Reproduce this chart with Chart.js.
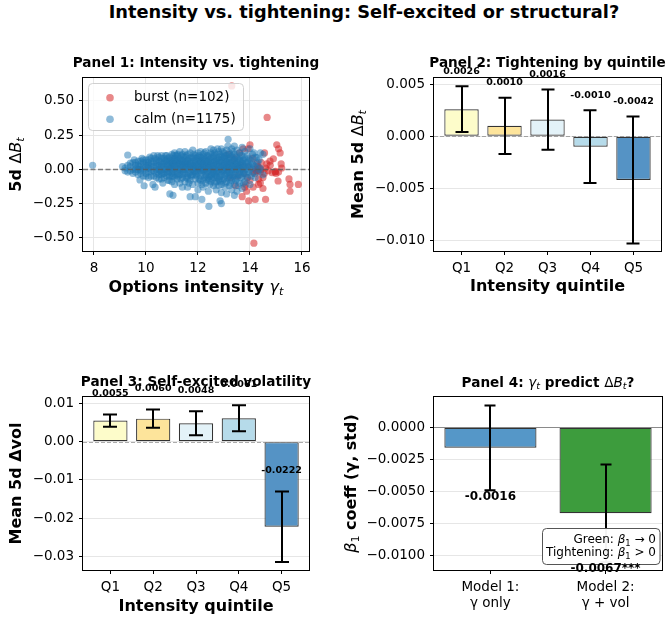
<!DOCTYPE html>
<html><head><meta charset="utf-8"><title>Intensity vs. tightening</title>
<script src="https://cdn.jsdelivr.net/npm/chart.js@4.4.1/dist/chart.umd.min.js"></script>
<style>
html,body{margin:0;padding:0;background:#fff;}
#wrap{position:relative;width:667px;height:620px;overflow:hidden;background:#fff;}
#suptitle{position:absolute;left:64px;width:600px;top:1px;text-align:center;font:bold 17.8px "DejaVu Sans";line-height:22px;color:#000;white-space:nowrap;}
canvas{position:absolute;}
</style></head><body>
<div id="wrap">
<div id="suptitle">Intensity vs. tightening: Self-excited or structural?</div>
<canvas id="p1" width="333" height="260" style="left:0;top:40px;width:333px;height:260px"></canvas>
<canvas id="p2" width="334" height="260" style="left:333px;top:40px;width:334px;height:260px"></canvas>
<canvas id="p3" width="333" height="260" style="left:0;top:360px;width:333px;height:260px"></canvas>
<canvas id="p4" width="334" height="260" style="left:333px;top:360px;width:334px;height:260px"></canvas>
</div>
<script>
// ---------------- DATA ----------------
const groupLabels = ['burst (n=102)', 'calm (n=1175)'];
const calmPoints = [
[7.95,0.03],
[9.1,0.02],[9.2,0.01],[9.2,-0.01],[9.3,0.105],[9.3,0.03],[9.3,-0.02],[9.4,0.02],[9.4,0.045],[9.4,-0.01],
[9.5,0.0],[9.5,0.05],[9.5,-0.03],[9.55,0.07],[9.6,-0.02],[9.6,0.03],[9.65,0.01],[9.7,0.06],[9.7,-0.04],[9.7,0.0],[9.75,0.02],[9.77,-0.077],
[9.8,0.04],[9.8,-0.01],[9.85,0.08],[9.9,0.02],[9.9,-0.05],[9.9,0.05],[9.93,-0.12],
[10.0,0.0],[10.0,0.07],[10.0,-0.03],[10.05,0.03],[10.1,0.05],[10.1,-0.06],[10.1,0.01],[10.15,0.09],[10.2,-0.02],[10.2,0.04],[10.25,0.06],
[10.27,-0.11],[10.3,0.02],[10.3,-0.05],[10.35,0.08],[10.35,-0.13],[10.4,0.0],[10.4,0.05],[10.4,-0.03],[10.45,0.1],[10.5,-0.07],[10.5,0.03],[10.5,0.06],[10.55,-0.01],
[10.6,0.08],[10.6,-0.04],[10.6,0.02],[10.65,-0.1],[10.7,0.0],[10.7,0.05],[10.7,-0.06],[10.75,0.1],[10.8,0.03],[10.8,-0.02],[10.8,0.07],[10.85,-0.08],
[10.9,-0.05],[10.9,0.01],[10.9,0.09],[10.92,-0.18],[10.95,0.04],[11.0,0.02],[11.0,-0.03],[11.0,0.06],[11.0,-0.09],[11.0,0.11],[11.04,-0.19],
[11.1,0.0],[11.1,0.04],[11.1,-0.06],[11.1,0.08],[11.1,-0.11],[11.1,0.12],
[11.2,0.03],[11.2,-0.02],[11.2,0.1],[11.2,-0.07],[11.2,0.06],
[11.3,0.05],[11.3,-0.04],[11.3,0.0],[11.3,0.13],[11.3,-0.1],[11.3,0.08],
[11.4,-0.01],[11.4,0.07],[11.4,-0.06],[11.4,0.03],[11.4,0.11],[11.4,-0.13],
[11.5,0.02],[11.5,-0.09],[11.5,0.09],[11.5,-0.03],[11.5,0.05],[11.5,0.13],
[11.6,-0.05],[11.6,0.0],[11.6,0.11],[11.6,0.04],[11.6,-0.13],[11.6,0.07],
[11.7,-0.2],[11.7,0.06],[11.7,-0.02],[11.7,0.02],[11.7,-0.08],[11.7,0.12],
[11.8,0.03],[11.8,-0.04],[11.8,0.08],[11.8,-0.11],[11.8,0.0],[11.8,0.14],
[11.9,0.05],[11.9,-0.07],[11.9,0.01],[11.9,0.1],[11.9,-0.02],[11.9,-0.2],
[12.0,-0.03],[12.0,0.04],[12.0,-0.1],[12.0,0.07],[12.0,0.0],[12.0,-0.15],[12.0,0.12],
[12.1,0.02],[12.1,0.09],[12.1,-0.05],[12.1,0.05],[12.1,-0.08],[12.1,0.13],[12.15,-0.22],
[12.2,-0.01],[12.2,0.06],[12.2,-0.08],[12.2,0.11],[12.2,0.03],[12.2,-0.13],
[12.3,0.0],[12.3,-0.04],[12.3,0.08],[12.3,0.04],[12.3,-0.1],[12.3,0.13],
[12.4,0.02],[12.4,-0.06],[12.4,0.1],[12.4,-0.02],[12.4,0.06],[12.4,-0.16],[12.42,-0.27],
[12.5,0.05],[12.5,-0.09],[12.5,0.0],[12.5,0.12],[12.5,-0.04],[12.5,0.08],[12.5,0.15],
[12.6,-0.02],[12.6,0.03],[12.6,-0.12],[12.6,0.09],[12.6,0.14],[12.6,-0.06],[12.6,0.0],
[12.7,0.01],[12.7,0.07],[12.7,-0.05],[12.7,0.11],[12.7,-0.15],[12.7,0.04],[12.7,-0.09],
[12.8,-0.03],[12.8,0.05],[12.8,0.13],[12.8,-0.08],[12.8,0.0],[12.8,0.09],[12.8,-0.12],[12.85,-0.23],
[12.9,0.02],[12.9,-0.11],[12.9,0.07],[12.9,-0.04],[12.9,0.15],[12.9,-0.17],[12.9,0.1],[12.9,-0.25],
[13.0,-0.01],[13.0,0.04],[13.0,0.12],[13.0,-0.07],[13.0,0.08],[13.04,-0.13],[13.0,0.0],
[13.1,0.06],[13.1,-0.03],[13.1,0.1],[13.1,-0.09],[13.1,0.02],[13.1,-0.18],[13.1,0.14],[13.16,0.22],
[13.2,-0.05],[13.2,0.01],[13.2,0.08],[13.2,-0.12],[13.2,0.05],[13.2,0.12],[13.2,-0.02],
[13.3,0.03],[13.3,-0.08],[13.3,0.1],[13.3,-0.02],[13.3,0.15],[13.3,-0.15],
[13.4,-0.04],[13.4,0.06],[13.4,0.0],[13.4,0.11],[13.4,-0.11],[13.4,-0.19],[13.4,0.17],
[13.5,0.02],[13.5,-0.07],[13.5,0.09],[13.5,0.14],[13.5,-0.16],[13.5,0.04],
[13.6,-0.02],[13.6,0.07],[13.6,-0.1],[13.6,0.12],[13.6,0.01],
[13.7,0.05],[13.7,-0.05],[13.7,-0.14],[13.7,0.1],[13.7,0.0],[13.7,0.16],
[13.8,-0.03],[13.8,0.08],[13.8,0.03],[13.8,-0.09],[13.8,0.13],
[13.9,0.02],[13.9,-0.06],[13.9,0.1],[13.9,0.05],
[14.0,0.15],[14.0,-0.11],[14.0,0.0],[14.0,0.07],
[14.1,0.04],[14.1,-0.03],[14.1,0.11],
[14.2,0.09],[14.2,0.02],[14.2,-0.06],
[14.3,0.05],[14.3,-0.02],[14.26,0.086],
[14.4,0.12],[14.4,0.01],
[14.5,0.11],[14.5,-0.04],
[9.6,0.0],[9.6,0.05],[9.7,0.03],[9.8,0.0],[9.8,0.06],[9.8,-0.03],[9.9,0.0],[9.9,0.07],
[10.0,0.02],[10.0,0.05],[10.0,-0.05],[10.1,-0.02],[10.1,0.07],[10.1,0.03],
[10.2,0.0],[10.2,0.08],[10.2,-0.05],[10.2,0.02],[10.3,0.05],[10.3,-0.01],[10.3,0.1],
[10.4,0.02],[10.4,-0.06],[10.4,0.07],[10.5,0.0],[10.5,0.09],[10.5,-0.04],
[10.6,0.05],[10.6,-0.02],[10.6,0.1],[10.6,-0.07],[10.7,0.02],[10.7,0.08],[10.7,-0.03],
[10.8,0.0],[10.8,0.05],[10.8,-0.05],[10.8,0.1],[10.9,0.06],[10.9,-0.02],[10.9,0.03],[10.9,-0.08],
[11.0,0.0],[11.0,0.08],[11.0,-0.05],[11.0,0.04],[11.05,0.02],[11.05,-0.02],[11.05,0.1],
[11.15,0.06],[11.15,-0.04],[11.15,0.01],[11.15,0.1],[11.25,0.0],[11.25,0.04],[11.25,-0.05],[11.25,0.08],
[11.35,0.02],[11.35,-0.07],[11.35,0.06],[11.35,0.1],[11.45,-0.02],[11.45,0.04],[11.45,0.0],[11.45,0.09],
[11.55,0.06],[11.55,-0.06],[11.55,0.02],[11.55,0.1],[11.65,-0.03],[11.65,0.08],[11.65,0.03],[11.65,-0.1],
[11.75,0.0],[11.75,0.05],[11.75,0.09],[11.75,-0.05],[11.85,0.02],[11.85,-0.02],[11.85,0.06],[11.85,0.11],
[11.95,-0.05],[11.95,0.03],[11.95,0.08],[11.95,-0.01],[12.05,0.01],[12.05,-0.07],[12.05,0.06],[12.05,0.1],
[12.15,-0.03],[12.15,0.04],[12.15,0.08],[12.15,0.0],[12.15,-0.11],[12.25,0.02],[12.25,-0.06],[12.25,0.07],[12.25,0.12],[12.25,-0.01],
[12.35,-0.02],[12.35,0.05],[12.35,0.1],[12.35,-0.07],[12.35,0.02],[12.45,0.0],[12.45,0.04],[12.45,0.09],[12.45,-0.05],[12.45,-0.11],
[12.55,0.02],[12.55,-0.02],[12.55,0.06],[12.55,0.11],[12.55,-0.07],[12.65,-0.04],[12.65,0.01],[12.65,0.06],[12.65,0.12],[12.65,-0.1],
[12.75,0.03],[12.75,-0.02],[12.75,0.08],[12.75,-0.06],[12.75,0.15],[12.85,0.0],[12.85,0.05],[12.85,0.11],[12.85,-0.05],[12.85,-0.09],
[12.95,-0.02],[12.95,0.03],[12.95,0.09],[12.95,-0.08],[12.95,0.13],[13.05,0.01],[13.05,0.06],[13.05,-0.04],[13.05,0.1],[13.05,-0.1],
[13.15,-0.01],[13.15,0.04],[13.15,0.08],[13.15,-0.06],[13.15,0.17],[13.25,0.0],[13.25,0.05],[13.25,-0.04],[13.25,0.09],[13.25,-0.1],
[13.35,0.02],[13.35,-0.05],[13.35,0.07],[13.35,0.13],[13.45,0.0],[13.45,0.04],[13.45,-0.03],[13.45,0.09],[13.45,-0.08],
[13.55,0.02],[13.55,-0.04],[13.55,0.07],[13.55,-0.12],[13.65,0.0],[13.65,0.05],[13.65,-0.06],[13.65,0.1],
[13.75,0.02],[13.75,-0.02],[13.75,0.07],[13.75,-0.1],[13.85,0.0],[13.85,0.05],[13.85,-0.04],
[13.95,0.03],[13.95,-0.02],[13.95,0.08],[14.05,0.01],[14.05,0.06],[14.05,-0.05],[14.15,0.03],[14.15,0.12],[14.35,0.07],[14.35,0.0],
[10.45,0.03],[10.45,-0.02],[10.55,0.06],[10.55,0.01],[10.65,0.04],[10.65,-0.03],[10.75,0.0],[10.75,0.06],
[10.85,0.03],[10.85,0.08],[10.85,-0.03],[10.95,0.0],[10.95,0.06],[11.05,0.05],[11.05,-0.05],[11.12,0.02],[11.12,0.07],
[11.22,-0.03],[11.22,0.05],[11.22,0.11],[11.32,0.01],[11.32,0.04],[11.42,0.06],[11.42,-0.04],[11.52,0.0],[11.52,0.04],
[11.62,0.02],[11.62,0.06],[11.62,-0.07],[11.72,0.04],[11.72,-0.04],[11.82,0.01],[11.82,0.09],[11.92,0.03],[11.92,-0.04],[11.92,0.06],
[12.02,0.02],[12.02,0.09],[12.12,-0.01],[12.12,0.06],[12.22,0.04],[12.22,0.0],[12.22,0.09],[12.32,0.06],[12.32,-0.05],
[12.42,0.01],[12.42,0.07],[12.42,-0.08],[12.52,0.03],[12.52,-0.05],[12.62,0.05],[12.62,0.1],[12.62,-0.03],[12.72,-0.01],[12.72,0.06],
[12.82,0.02],[12.82,0.07],[12.82,-0.07],[12.92,0.0],[12.92,0.05],[13.02,0.03],[13.02,-0.05],[13.02,0.09],[13.12,0.0],[13.12,0.05],
[13.22,0.03],[13.22,-0.07],[13.22,0.11],[13.32,0.0],[13.32,0.05],[13.42,0.02],[13.42,0.07],[13.42,-0.06],[13.52,0.0],[13.52,0.05],
[13.62,0.03],[13.62,-0.04],[13.72,0.01],[13.72,0.06]
];
const burstPoints = [
[13.3,0.61],[14.66,0.38],[14.15,-0.54],[13.95,-0.23],[14.2,-0.22],[14.6,-0.22],[13.7,-0.2],[13.84,-0.11],[13.45,-0.12],
[14.33,-0.11],[14.5,-0.14],[14.33,-0.07],[15.08,-0.085],[15.5,-0.07],[15.54,-0.11],[15.86,-0.11],[15.54,-0.16],
[15.1,-0.02],[14.97,-0.02],[14.85,-0.025],[15.2,0.04],[15.22,0.01],[15.03,0.18],[15.1,0.15],[15.16,0.12],[14.9,0.077],
[14.77,0.06],[14.56,0.12],[14.43,0.05],[14.6,0.01],[14.26,0.04],[14.0,0.18],[13.93,0.15],[13.74,0.15],[14.12,-0.02],
[14.18,-0.03],[14.3,0.02],[14.43,0.0],[13.66,0.03],[13.4,0.08],[13.53,-0.05],[13.9,-0.06],[14.12,-0.13],[13.87,-0.16],
[14.0,-0.08],[14.4,-0.1],[14.5,-0.06],[14.7,-0.01],[14.78,0.03],[13.25,-0.06],[13.16,0.11],[14.25,-0.01],[14.2,0.0],
[13.6,0.12],[13.8,-0.13],[14.35,0.01],[14.4,-0.02],[14.28,-0.01],[15.0,-0.03],[14.98,-0.015],[14.55,-0.03],[14.65,0.04],
[13.95,0.02],[13.75,-0.03],[14.1,0.08]
];
const scatterXTicks = [8, 10, 12, 14, 16];
const scatterYTicks = [-0.5, -0.25, 0, 0.25, 0.5];

const quintiles = ['Q1', 'Q2', 'Q3', 'Q4', 'Q5'];
const quintileColors = ['#fdfcca', '#fde49b', '#e3f2f8', '#b6dbea', '#5593c5'];
const tightMean = [0.0026, 0.0010, 0.0016, -0.0010, -0.0042];
const tightErr  = [0.0022, 0.0027, 0.0029, 0.0035, 0.0061];
const tightTicks = [-0.010, -0.005, 0, 0.005];

const volMean = [0.0055, 0.0060, 0.0048, 0.0061, -0.0222];
const volErr  = [0.0016, 0.0024, 0.0031, 0.0034, 0.0092];
const volTicks = [-0.03, -0.02, -0.01, 0, 0.01];

const models = [['Model 1:', 'γ only'], ['Model 2:', 'γ + vol']];
const modelColors = ['#5597c8', '#3d9c3d'];
const betaCoef = [-0.0016, -0.0067];
const betaErr  = [0.0033, 0.0038];
const betaStars = ['', '***'];
const betaTicks = [-0.0100, -0.0075, -0.0050, -0.0025, 0];

// ---------------- HELPERS ----------------
const FF = '"DejaVu Sans"';
function fmt(v, d) { const s = Math.abs(v).toFixed(d); return (v < -1e-12 ? '\u2212' : '') + s; }
function segFont(k, size) {
  if (k === 'b') return `bold ${size}px ${FF}`;
  if (k === 'r') return `${size}px ${FF}`;
  if (k === 'i') return `italic ${size}px ${FF}`;
  if (k === 'is') return `italic ${(size * 0.7).toFixed(2)}px ${FF}`;
  if (k === 'rs') return `${(size * 0.7).toFixed(2)}px ${FF}`;
  return `${size}px ${FF}`;
}
function drawRich(ctx, segs, x, y, size, align, rot, color) {
  ctx.save();
  ctx.translate(x, y);
  if (rot) ctx.rotate(rot);
  let w = 0; const ms = [];
  for (const [t, k] of segs) { ctx.font = segFont(k, size); const m = ctx.measureText(t).width; ms.push(m); w += m; }
  let cx = align === 'center' ? -w / 2 : align === 'right' ? -w : 0;
  ctx.textBaseline = 'middle'; ctx.textAlign = 'left'; ctx.fillStyle = color || '#000';
  segs.forEach(([t, k], i) => {
    ctx.font = segFont(k, size);
    const dy = (k === 'is' || k === 'rs') ? size * 0.28 : 0;
    ctx.fillText(t, cx, dy); cx += ms[i];
  });
  ctx.restore();
}
function roundRect(ctx, x, y, w, h, r) {
  ctx.beginPath();
  ctx.moveTo(x + r, y); ctx.lineTo(x + w - r, y); ctx.quadraticCurveTo(x + w, y, x + w, y + r);
  ctx.lineTo(x + w, y + h - r); ctx.quadraticCurveTo(x + w, y + h, x + w - r, y + h);
  ctx.lineTo(x + r, y + h); ctx.quadraticCurveTo(x, y + h, x, y + h - r);
  ctx.lineTo(x, y + r); ctx.quadraticCurveTo(x, y, x + r, y); ctx.closePath();
}
const tickFont = { family: 'DejaVu Sans', size: 13.5 };
const PT = 13.6; // panel title size

function yScale(min, max, ticks, dec, width) {
  return {
    type: 'linear', min, max, bounds: 'data',
    afterBuildTicks: s => { s.ticks = ticks.map(v => ({ value: v })); },
    afterFit: s => { s.width = width; s.paddingTop = 0; s.paddingBottom = 0; },
    grid: { display: true, drawOnChartArea: true, offset: false, color: '#e6e6e6', lineWidth: 1, tickColor: '#000', tickLength: 4, drawTicks: true },
    border: { display: false },
    ticks: { font: tickFont, color: '#000', padding: 5, autoSkip: false, callback: v => fmt(v, dec) }
  };
}
function xScale(min, max, ticks, labelFn, height, gridOn) {
  return {
    type: 'linear', min, max, bounds: 'data', offset: false,
    afterBuildTicks: s => { s.ticks = ticks.map(v => ({ value: v })); },
    afterFit: s => { s.height = height; s.paddingLeft = 0; s.paddingRight = 0; },
    grid: { display: true, drawOnChartArea: gridOn, offset: false, color: '#e6e6e6', lineWidth: 1, tickColor: '#000', tickLength: 4, drawTicks: true },
    border: { display: false },
    ticks: { font: tickFont, color: '#000', padding: 5, autoSkip: false, maxRotation: 0, minRotation: 0, callback: labelFn }
  };
}

function decoPlugin(cfg) {
  return {
    id: 'deco',
    afterDatasetsDraw(chart) {
      const ctx = chart.ctx, a = chart.chartArea, xs = chart.scales.x, ys = chart.scales.y;
      ctx.save();
      ctx.beginPath(); ctx.rect(a.left, a.top, a.right - a.left, a.bottom - a.top); ctx.clip();
      if (cfg.zero) {
        const y0 = Math.round(ys.getPixelForValue(0)) + 0.5;
        ctx.strokeStyle = cfg.zero.color; ctx.lineWidth = cfg.zero.width; ctx.setLineDash(cfg.zero.dash || []);
        ctx.beginPath(); ctx.moveTo(a.left, y0); ctx.lineTo(a.right, y0); ctx.stroke(); ctx.setLineDash([]);
      }
      if (cfg.err) {
        const { mean, err, cap } = cfg.err;
        ctx.strokeStyle = '#000'; ctx.lineWidth = 2;
        mean.forEach((m, i) => {
          const x = Math.round(xs.getPixelForValue(i));
          const yt = ys.getPixelForValue(m + err[i]), yb = ys.getPixelForValue(m - err[i]);
          ctx.beginPath();
          ctx.moveTo(x, yt); ctx.lineTo(x, yb);
          ctx.moveTo(x - cap, yt); ctx.lineTo(x + cap, yt);
          ctx.moveTo(x - cap, yb); ctx.lineTo(x + cap, yb);
          ctx.stroke();
        });
      }
      ctx.restore();
    },
    afterDraw(chart) {
      const ctx = chart.ctx, a = chart.chartArea, xs = chart.scales.x, ys = chart.scales.y;
      ctx.save();
      ctx.strokeStyle = '#000'; ctx.lineWidth = 1;
      ctx.strokeRect(Math.round(a.left) - 0.5, Math.round(a.top) - 0.5, Math.round(a.right - a.left) + 1, Math.round(a.bottom - a.top) + 1);
      ctx.restore();
      if (cfg.legend) cfg.legend(ctx);
      if (cfg.annot) cfg.annot(ctx);
      const T = cfg.titles;
      drawRich(ctx, T.title, T.tx, T.ty, PT, 'center');
      if (T.xt) drawRich(ctx, T.xt, T.xx, T.xy, 16, 'center');
      if (T.yt) drawRich(ctx, T.yt, T.yx, T.yy, 16, 'center', -Math.PI / 2);
      if (cfg.labels) {
        const L = cfg.labels;
        ctx.save();
        ctx.font = `bold ${L.size}px ${FF}`; ctx.fillStyle = '#000'; ctx.textAlign = 'center'; ctx.textBaseline = 'middle';
        L.mean.forEach((m, i) => {
          const x = xs.getPixelForValue(i);
          const y = L.below ? ys.getPixelForValue(m - L.err[i]) + L.off : ys.getPixelForValue(m + L.err[i]) - L.off;
          ctx.fillText(m.toFixed(4) + (L.suffix ? L.suffix[i] : ''), x, y);
        });
        ctx.restore();
      }
    }
  };
}

const baseOpts = {
  responsive: false, animation: false, devicePixelRatio: 1, events: [],
  plugins: { legend: { display: false }, tooltip: { enabled: false }, title: { display: false } }
};
const barDefaults = { borderColor: '#333', borderWidth: 1.2, borderSkipped: false, barPercentage: 0.8, categoryPercentage: 1 };

// ---------------- PANEL 1 ----------------
new Chart(document.getElementById('p1'), {
  type: 'scatter',
  data: {
    datasets: [
      { label: groupLabels[1], data: calmPoints.map(p => ({ x: p[0], y: p[1] })), backgroundColor: 'rgba(31,119,180,0.5)', borderWidth: 0, pointRadius: 3.6 },
      { label: groupLabels[0], data: burstPoints.map(p => ({ x: p[0], y: p[1] })), backgroundColor: 'rgba(214,39,40,0.55)', borderWidth: 0, pointRadius: 3.6 }
    ]
  },
  options: Object.assign({}, baseOpts, {
    layout: { padding: { left: 0, right: 24, top: 38, bottom: 0 }, autoPadding: false },
    scales: {
      x: xScale(7.58, 16.27, scatterXTicks, v => fmt(v, 0), 49, true),
      y: yScale(-0.597, 0.668, scatterYTicks, 2, 83)
    }
  }),
  plugins: [decoPlugin({
    zero: { color: 'rgba(90,90,90,0.75)', width: 1.3, dash: [5, 2.5] },
    legend: ctx => {
      ctx.save();
      roundRect(ctx, 88.5, 43.5, 155, 47, 4);
      ctx.fillStyle = 'rgba(255,255,255,0.8)'; ctx.fill();
      ctx.strokeStyle = '#d0d0d0'; ctx.lineWidth = 1; ctx.stroke();
      const cols = ['rgba(214,39,40,0.55)', 'rgba(31,119,180,0.5)'];
      const ys = [57.7, 79.3];
      groupLabels.forEach((t, i) => {
        ctx.fillStyle = cols[i]; ctx.beginPath(); ctx.arc(110, ys[i], 3.8, 0, Math.PI * 2); ctx.fill();
        ctx.fillStyle = '#000'; ctx.font = `13.5px ${FF}`; ctx.textBaseline = 'middle'; ctx.textAlign = 'left';
        ctx.fillText(t, 134, ys[i]);
      });
      ctx.restore();
    },
    titles: {
      title: [['Panel 1: Intensity vs. tightening', 'b']], tx: 196, ty: 23,
      xt: [['Options intensity ', 'b'], ['γ', 'i'], ['t', 'is']], xx: 196, xy: 248,
      yt: [['5d ', 'b'], ['Δ', 'r'], ['B', 'i'], ['t', 'is']], yx: 17, yy: 124.5
    }
  })]
});

// ---------------- PANEL 2 ----------------
new Chart(document.getElementById('p2'), {
  type: 'bar',
  data: { datasets: [Object.assign({ data: tightMean.map((v, i) => ({ x: i, y: v })), backgroundColor: quintileColors }, barDefaults)] },
  options: Object.assign({}, baseOpts, {
    layout: { padding: { left: 0, right: 6, top: 38, bottom: 0 }, autoPadding: false },
    scales: {
      x: xScale(-0.64, 4.64, quintiles.map((q, i) => i), v => quintiles[v], 49, false),
      y: yScale(-0.01103, 0.0056, tightTicks, 3, 101)
    }
  }),
  plugins: [decoPlugin({
    zero: { color: 'rgba(128,128,128,0.65)', width: 1, dash: [4, 2] },
    err: { mean: tightMean, err: tightErr, cap: 6.5 },
    labels: { mean: tightMean, err: tightErr, off: 15, size: 9.5 },
    titles: {
      title: [['Panel 2: Tightening by quintile', 'b']], tx: 214.5, ty: 23,
      xt: [['Intensity quintile', 'b']], xx: 214.5, xy: 247,
      yt: [['Mean 5d ', 'b'], ['Δ', 'r'], ['B', 'i'], ['t', 'is']], yx: 26, yy: 124.5
    }
  })]
});

// ---------------- PANEL 3 ----------------
new Chart(document.getElementById('p3'), {
  type: 'bar',
  data: { datasets: [Object.assign({ data: volMean.map((v, i) => ({ x: i, y: v })), backgroundColor: quintileColors }, barDefaults)] },
  options: Object.assign({}, baseOpts, {
    layout: { padding: { left: 0, right: 24, top: 37, bottom: 0 }, autoPadding: false },
    scales: {
      x: xScale(-0.64, 4.64, quintiles.map((q, i) => i), v => quintiles[v], 50, false),
      y: yScale(-0.0335, 0.01165, volTicks, 2, 83)
    }
  }),
  plugins: [decoPlugin({
    zero: { color: 'rgba(128,128,128,0.65)', width: 1, dash: [4, 2] },
    err: { mean: volMean, err: volErr, cap: 7 },
    labels: { mean: volMean, err: volErr, off: 21, size: 9.5 },
    titles: {
      title: [['Panel 3: Self-excited volatility', 'b']], tx: 196, ty: 22,
      xt: [['Intensity quintile', 'b']], xx: 196, xy: 246.5,
      yt: [['Mean 5d Δvol', 'b']], yx: 17, yy: 123.5
    }
  })]
});

// ---------------- PANEL 4 ----------------
new Chart(document.getElementById('p4'), {
  type: 'bar',
  data: { datasets: [Object.assign({ data: betaCoef.map((v, i) => ({ x: i, y: v })), backgroundColor: modelColors }, barDefaults)] },
  options: Object.assign({}, baseOpts, {
    layout: { padding: { left: 0, right: 5, top: 37, bottom: 0 }, autoPadding: false },
    scales: {
      x: xScale(-0.49, 1.49, models.map((m, i) => i), v => models[v], 50, false),
      y: yScale(-0.01112, 0.00236, betaTicks, 4, 101)
    }
  }),
  plugins: [decoPlugin({
    zero: { color: 'rgba(128,128,128,0.9)', width: 1, dash: [] },
    err: { mean: betaCoef, err: betaErr, cap: 5.5 },
    annot: ctx => {
      ctx.save();
      roundRect(ctx, 209.5, 168.5, 117.5, 36, 4);
      ctx.fillStyle = 'rgba(255,255,255,0.95)'; ctx.fill();
      ctx.strokeStyle = '#555'; ctx.lineWidth = 1; ctx.stroke();
      ctx.restore();
      drawRich(ctx, [['Green: ', 'r'], ['β', 'i'], ['1', 'rs'], [' → 0', 'r']], 323, 180, 12, 'right');
      drawRich(ctx, [['Tightening: ', 'r'], ['β', 'i'], ['1', 'rs'], [' > 0', 'r']], 323, 193.3, 12, 'right');
    },
    labels: { mean: betaCoef, err: betaErr, off: 7, size: 12, below: true, suffix: betaStars },
    titles: {
      title: [['Panel 4: ', 'b'], ['γ', 'i'], ['t', 'is'], [' predict ', 'b'], ['Δ', 'r'], ['B', 'i'], ['t', 'is'], ['?', 'b']], tx: 215, ty: 23,
      yt: [['β', 'i'], ['1', 'rs'], [' coeff (γ, std)', 'b']], yx: 19, yy: 123.5
    }
  })]
});
</script>
</body></html>
